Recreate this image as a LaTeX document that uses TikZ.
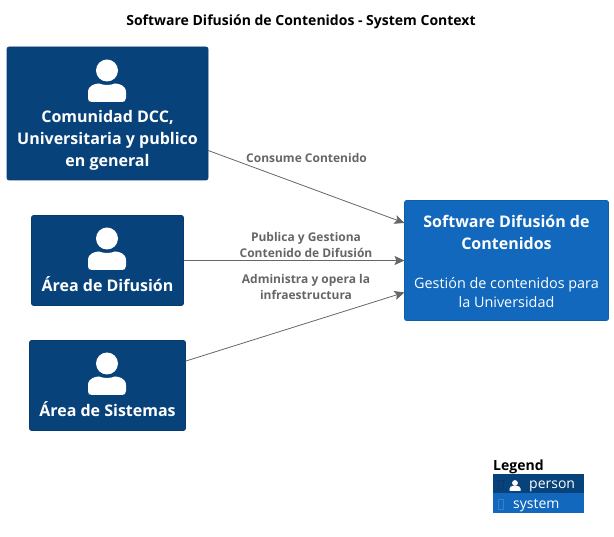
\documentclass[tikz,border=0pt]{standalone}
\usepackage{fontspec}
\setmainfont{Open Sans}
\usetikzlibrary{arrows.meta}
\definecolor{persc}{HTML}{08427B}
\definecolor{sysc}{HTML}{1168BD}
\definecolor{persb}{HTML}{073B6F}
\definecolor{sysb}{HTML}{3C7FC0}
\definecolor{linec}{HTML}{666666}
\tikzset{
 x=1pt,y=-1pt,
 boxnode/.style={rectangle,rounded corners=2pt,outer sep=0pt,inner sep=0pt,draw=#1!90!black,fill=#1,line width=.6pt},
 headtxt/.style={text=white,font=\bfseries\fontsize{16}{22}\selectfont,align=center},
 desctxt/.style={text=white,font=\fontsize{14.4}{19}\selectfont,align=center},
 edgetxt/.style={text=linec,font=\bfseries\fontsize{12}{16}\selectfont,align=center},
 rel/.style={draw=linec,line width=.8pt,-{Stealth[length=10pt,width=9pt,inset=2pt]}},
 titletxt/.style={text=black,font=\bfseries\fontsize{14}{18}\selectfont},
 legtxt/.style={text=white,font=\fontsize{14}{18}\selectfont},
 pics/personicon/.style={code={
   \fill[white] (0,-15.5) circle (11);
   \fill[white] (-19,16) -- (-19,6) .. controls (-19,-1) and (-11,-2.5) .. (-8,-2.5)
      .. controls (-3,-0.5) and (3,-0.5) .. (8,-2.5)
      .. controls (11,-2.5) and (19,-1) .. (19,6) -- (19,12) .. controls (19,15) and (17,16) .. (15,16) -- (-15,16) .. controls (-17,16) and (-19,15) .. (-19,12) -- cycle;
 }},
 pics/smallperson/.style={code={
   \fill[white] (0,-3) circle (2.9);
   \fill[white] (-5.5,5) -- (-5.5,2.5) .. controls (-5.5,0.5) and (-3,0) .. (-2,0) -- (2,0) .. controls (3,0) and (5.5,0.5) .. (5.5,2.5) -- (5.5,5) -- cycle;
 }},
}
\begin{document}
\begin{tikzpicture}
\useasboundingbox (0,0) rectangle (614,537);
\node[titletxt] (title) at (301,21.5) {Software Difusión de Contenidos - System Context};

\node[boxnode=persc,minimum width=201,minimum height=133] (comunidad) at (107.5,113.5) {};
\node[boxnode=persc,minimum width=152,minimum height=90] (difusion) at (107.5,260.5) {};
\node[boxnode=persc,minimum width=156,minimum height=90] (sistemas) at (107.5,385.5) {};
\node[boxnode=sysc,minimum width=204,minimum height=120] (software) at (506.5,260.5) {};

\pic at (107,86) {personicon};
\pic at (107,254) {personicon};
\pic at (107,379) {personicon};

\node[headtxt] (t1) at (107.5,140.5) {Comunidad DCC,\\Universitaria y publico\\en general};
\node[headtxt] (t2) at (107.5,284) {Área de Difusión};
\node[headtxt] (t3) at (107.5,409) {Área de Sistemas};
\node[headtxt] (t4) at (506.5,232.5) {Software Difusión de\\Contenidos};
\node[desctxt] (t5) at (506.5,292.5) {Gestión de contenidos para\\la Universidad};

\draw[rel] (comunidad) -- (software);
\draw[rel] (difusion) -- (software);
\draw[rel] (sistemas) -- (software);

\node[edgetxt] (e1) at (306.5,158) {Consume Contenido};
\node[edgetxt] (e2) at (306,245.5) {Publica y Gestiona\\Contenido de Difusión};
\node[edgetxt] (e3) at (306,287.5) {Administra y opera la\\infraestructura};

\node[anchor=west,inner sep=0pt,text=black,font=\bfseries\fontsize{14}{18}\selectfont] (legend) at (493,466.5) {Legend};
\node[rectangle,fill=persc,minimum width=91,minimum height=19,inner sep=0pt,outer sep=0pt] (lp) at (538.5,483.5) {};
\node[rectangle,fill=sysc,minimum width=91,minimum height=19.5,inner sep=0pt,outer sep=0pt] (ls) at (538.5,503) {};
\draw[persb,line width=.5pt] (498,480) rectangle (503,489);
\draw[sysb,line width=.5pt] (498,499) rectangle (503,509);
\pic at (515,486) {smallperson};
\node[legtxt,anchor=west,inner sep=0pt] (lpt) at (529,486.5) {person};
\node[legtxt,anchor=west,inner sep=0pt] (lst) at (513,505.5) {system};
\end{tikzpicture}
\end{document}
